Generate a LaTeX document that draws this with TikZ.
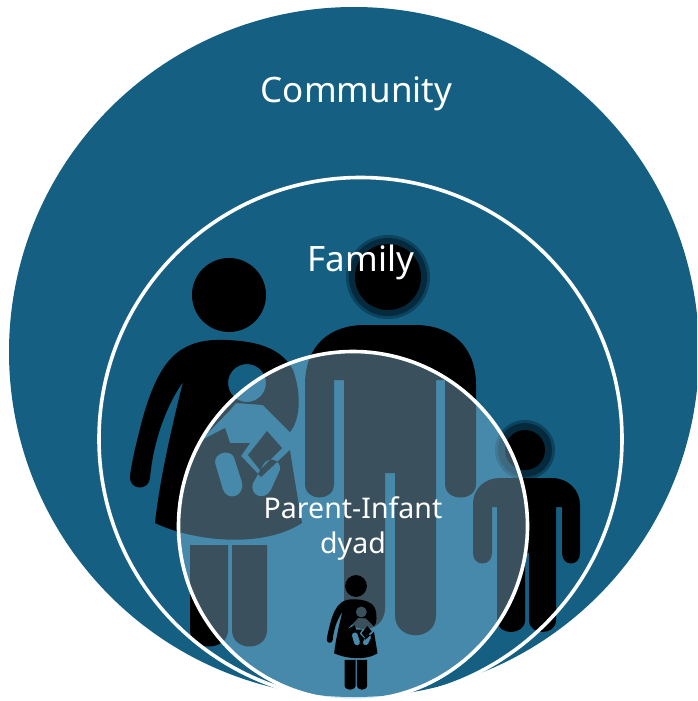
\documentclass[tikz,border=0pt]{standalone}
\usepackage{fontspec}
\setmainfont{Noto Sans}
\definecolor{teal}{RGB}{21,96,130}
\definecolor{halo}{RGB}{5,42,62}
\definecolor{wash}{RGB}{145,200,230}
\newcommand{\womanfig}{%
  \fill[black,even odd rule]
    (229,295) circle[radius=37]
    % body, arm, dress and the notch of the baby
    (227,340) .. controls (205,339) and (190,343) .. (178,352)
      .. controls (160,366) and (151,390) .. (143,417)
      .. controls (137,440) and (132,460) .. (130,476)
      .. controls (129,491) and (149,491) .. (150,478)
      .. controls (152,455) and (160,415) .. (183,382)
      .. controls (176,410) and (160,475) .. (155,523)
      .. controls (190,540) and (260,550) .. (302,523)
      .. controls (298,500) and (293,470) .. (290,450)
      -- (261,477) -- (241,456) -- (250,443) -- (230,443) -- (225,428) -- (200,441)
      -- (230,410) -- (236,403) -- (263,405) -- (290,432)
      .. controls (300,420) and (302,395) .. (293,370)
      .. controls (280,345) and (250,341) .. (227,340) -- cycle
    (247,383) circle[radius=19]
    (267,431) -- (282,448) -- (260,470) -- (248,455) -- cycle
    (215,463) .. controls (214,452) and (230,449) .. (234,457) -- (242,482)
      .. controls (245,498) and (227,501) .. (223,490) -- cycle
    (263,465) .. controls (267,456) and (282,459) .. (280,470) -- (271,490)
      .. controls (265,501) and (249,497) .. (253,483) -- cycle
    (190,545) -- (228,545) -- (228,630) .. controls (228,652) and (190,652) .. (190,630) -- cycle
    (232,545) -- (267,545) -- (267,630) .. controls (267,652) and (232,652) .. (232,630) -- cycle;
}
\tikzset{
  ringline/.style={draw=white,line width=3.6pt},
  labeltext/.style={text=white,inner sep=0pt,anchor=center,align=center}
}
\begin{document}
\begin{tikzpicture}[x=1pt,y=-1pt]
\useasboundingbox (0,0) rectangle (697,701);
\fill[white] (0,0) rectangle (697,701);
\clip (0,0) rectangle (697,701);
% community
\fill[teal] (354,352) circle[radius=345];
% large woman
\begin{scope}
\womanfig
\end{scope}
% man
\fill[halo,fill opacity=.5] (388,277) circle[radius=42];
\fill[halo] (388,277) circle[radius=39];
\fill[black] (388,277) circle[radius=33];
\fill[black]
  (305,385) .. controls (305,345) and (330,325) .. (365,325) -- (415,325)
  .. controls (450,325) and (476,345) .. (476,385) -- (476,484)
  .. controls (476,502) and (445,502) .. (445,484) -- (445,380) -- (436,380)
  -- (436,615) .. controls (436,642) and (395,642) .. (395,615) -- (395,473) -- (385,473)
  -- (385,608) .. controls (385,636) and (344,636) .. (344,608)
  -- (344,380) -- (334,380) -- (334,484)
  .. controls (334,502) and (305,502) .. (305,484) -- cycle;
% child
\fill[halo,fill opacity=.5] (525,450) circle[radius=30];
\fill[halo] (525,450) circle[radius=27];
\fill[black] (525,450) circle[radius=20];
\fill[black]
  (473,505) .. controls (473,488) and (485,478) .. (500,478) -- (552,478)
  .. controls (568,478) and (580,490) .. (580,505) -- (580,553)
  .. controls (580,567) and (562,567) .. (562,553) -- (562,507) -- (556,507)
  -- (556,620) .. controls (556,636) and (529,636) .. (529,620) -- (529,553) -- (525,553)
  -- (525,620) .. controls (525,636) and (497,636) .. (497,620)
  -- (497,507) -- (492,507) -- (492,553)
  .. controls (492,567) and (473,567) .. (473,553) -- cycle;
% family circle
\draw[ringline] (360.5,439) circle[radius=261.5];
% dyad circle
\fill[wash,fill opacity=.4] (353,526) circle[radius=174.5];
\draw[ringline] (353,526) circle[radius=174.5];
% small woman
\begin{scope}[shift={(356,586)},scale=.295,shift={(-229,-295)}]
\womanfig
\end{scope}
% labels
\node[labeltext,font=\fontsize{35}{40}\selectfont] (community) at (356.5,94) {Community};
\node[labeltext,font=\fontsize{35}{40}\selectfont] (family) at (361,262) {Family};
\node[labeltext,font=\fontsize{28.5}{35}\selectfont] (dyad) at (353,529) {Parent-Infant\\dyad};
\end{tikzpicture}
\end{document}
